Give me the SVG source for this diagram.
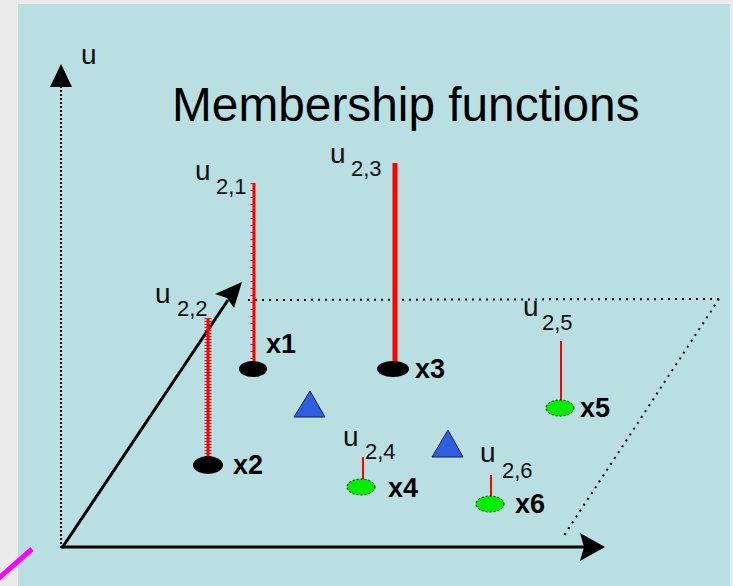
<svg xmlns="http://www.w3.org/2000/svg" width="733" height="586" viewBox="0 0 733 586">
  <defs>
    <style>
      .u { font-family: "Liberation Sans", Arial, sans-serif; font-size: 28px; fill: #111; }
      .sub { font-size: 22px; }
      .xl { font-family: "Liberation Sans", Arial, sans-serif; font-size: 27px; font-weight: bold; fill: #000; }
      .title { font-family: "Liberation Sans", Arial, sans-serif; font-size: 47.8px; fill: #000; }
      .red { stroke: #ff0000; fill: none; }
      .dotb { fill: #000; }
      .dotg { fill: #00ee00; stroke: #111; stroke-width: 1; stroke-dasharray: 2 2; }
      .tri { fill: #2f5fe0; stroke: #10205a; stroke-width: 1; }
    </style>
  </defs>

  <rect x="0" y="0" width="733" height="586" fill="#ebebeb"/>
  <rect x="18" y="4" width="712" height="582" fill="#badfe3"/>

  <text class="title" x="172" y="121">Membership functions</text>

  <g id="connectors">
    <!-- vertical axis -->
    <line x1="61" y1="548" x2="61" y2="84" stroke="#000" stroke-width="2" stroke-dasharray="2 2"/>
    <path d="M61,64 L72,87 L50,87 Z" fill="#000"/>
    <!-- horizontal axis -->
    <line x1="61" y1="547" x2="584" y2="547" stroke="#000" stroke-width="3"/>
    <path d="M605,547 L580,533 L584,547 L580,561 Z" fill="#000"/>
    <!-- diagonal axis -->
    <line x1="62" y1="548" x2="228" y2="300" stroke="#000" stroke-width="3"/>
    <path d="M242,282 L234,308 L227,298 L215,294 Z" fill="#000"/>
    <!-- plane outline -->
    <line x1="248" y1="300" x2="719" y2="299" stroke="#000" stroke-width="2" stroke-dasharray="2 5"/>
    <line x1="719" y1="299" x2="563" y2="537" stroke="#000" stroke-width="2" stroke-dasharray="2 5"/>
  </g>

  <g id="u-axis-label"><text class="u" x="81" y="64">u</text></g>

  <g id="x1">
    <line class="red" x1="254" y1="183" x2="254" y2="364" stroke-width="3"/>
    <line class="red" x1="252" y1="183" x2="252" y2="364" stroke-width="3" stroke-dasharray="1 6"/>
    <ellipse class="dotb" cx="253" cy="369" rx="14" ry="8"/>
    <text class="xl" x="266" y="353">x1</text>
    <text class="u" x="195" y="180">u<tspan class="sub" x="216" y="194">2,1</tspan></text>
  </g>

  <g id="x2">
    <line class="red" x1="208" y1="318" x2="208" y2="462" stroke-width="3"/>
    <line class="red" x1="208" y1="318" x2="208" y2="462" stroke-width="7" stroke-dasharray="1 2"/>
    <ellipse class="dotb" cx="208" cy="465" rx="15" ry="9"/>
    <text class="xl" x="233" y="474">x2</text>
    <text class="u" x="155" y="303">u<tspan class="sub" x="177" y="316">2,2</tspan></text>
  </g>

  <g id="x3">
    <line class="red" x1="395" y1="163" x2="395" y2="364" stroke-width="5"/>
    <ellipse class="dotb" cx="393" cy="369" rx="16" ry="8"/>
    <text class="xl" x="415" y="378">x3</text>
    <text class="u" x="330" y="163">u<tspan class="sub" x="351" y="176">2,3</tspan></text>
  </g>

  <g id="x4">
    <line class="red" x1="363" y1="457" x2="363" y2="480" stroke-width="2"/>
    <ellipse class="dotg" cx="361" cy="487" rx="14" ry="8"/>
    <text class="xl" x="388" y="497">x4</text>
    <text class="u" x="343" y="446">u<tspan class="sub" x="365" y="459">2,4</tspan></text>
  </g>

  <g id="x5">
    <line class="red" x1="561" y1="341" x2="561" y2="401" stroke-width="2"/>
    <ellipse class="dotg" cx="560" cy="408" rx="14" ry="8"/>
    <text class="xl" x="580" y="417">x5</text>
    <text class="u" x="523" y="316">u<tspan class="sub" x="542" y="330">2,5</tspan></text>
  </g>

  <g id="x6">
    <line class="red" x1="491" y1="475" x2="491" y2="497" stroke-width="2"/>
    <ellipse class="dotg" cx="490" cy="504" rx="14" ry="8"/>
    <text class="xl" x="515" y="513">x6</text>
    <text class="u" x="480" y="462">u<tspan class="sub" x="502" y="478">2,6</tspan></text>
  </g>

  <g id="triangle1"><path class="tri" d="M310,391 L325,417 L294,417 Z"/></g>
  <g id="triangle2"><path class="tri" d="M448,430 L463,457 L432,457 Z"/></g>

  <line x1="-8" y1="584" x2="32" y2="549" stroke="#ff00ff" stroke-width="5"/>
</svg>
